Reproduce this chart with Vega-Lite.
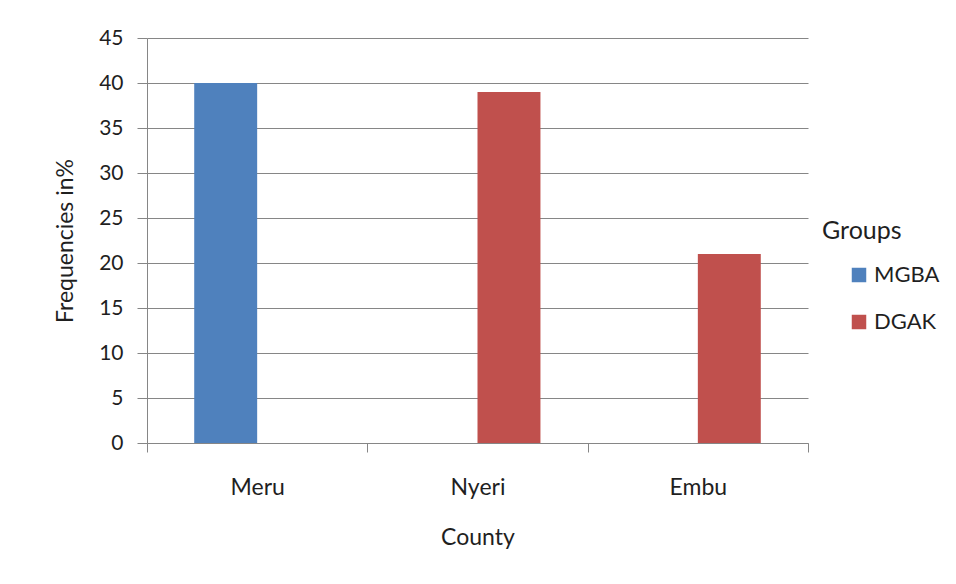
{
  "$schema": "https://vega.github.io/schema/vega-lite/v6.json",
  "width": 661,
  "height": 405,
  "autosize": {"type": "none"},
  "padding": {"left": 147, "top": 38, "right": 148, "bottom": 141},
  "background": "white",
  "data": {
    "values": [
      {"County": "Meru", "Group": "MGBA", "Frequency": 40},
      {"County": "Meru", "Group": "DGAK", "Frequency": 0},
      {"County": "Nyeri", "Group": "MGBA", "Frequency": 0},
      {"County": "Nyeri", "Group": "DGAK", "Frequency": 39},
      {"County": "Embu", "Group": "MGBA", "Frequency": 0},
      {"County": "Embu", "Group": "DGAK", "Frequency": 21}
    ]
  },
  "mark": {"type": "bar"},
  "encoding": {
    "x": {
      "field": "County",
      "type": "nominal",
      "sort": ["Meru", "Nyeri", "Embu"],
      "scale": {"paddingInner": 0, "paddingOuter": 0},
      "axis": {
        "title": "County",
        "labelAngle": 0,
        "labelFontSize": 23,
        "tickBand": "extent",
        "ticks": true,
        "tickSize": 9,
        "labelPadding": 24,
        "titlePadding": 27,
        "grid": false
      }
    },
    "xOffset": {
      "field": "Group",
      "type": "nominal",
      "sort": ["MGBA", "DGAK"],
      "scale": {"paddingInner": 0, "paddingOuter": 0.75}
    },
    "y": {
      "field": "Frequency",
      "type": "quantitative",
      "scale": {"domain": [0, 45], "nice": false},
      "axis": {
        "title": "Frequencies in%",
        "values": [0, 5, 10, 15, 20, 25, 30, 35, 40, 45],
        "tickSize": 10,
        "labelPadding": 14,
        "titlePadding": 21,
        "grid": true
      }
    },
    "color": {
      "field": "Group",
      "type": "nominal",
      "sort": ["MGBA", "DGAK"],
      "scale": {"domain": ["MGBA", "DGAK"], "range": ["#4F81BD", "#C0504D"]},
      "legend": {
        "title": "Groups",
        "orient": "none",
        "legendX": 675,
        "legendY": 181,
        "symbolType": "square",
        "symbolSize": 210,
        "symbolOffset": 26,
        "rowPadding": 25,
        "titlePadding": 20
      }
    }
  },
  "config": {
    "font": "Lato",
    "view": {"stroke": null},
    "axis": {
      "domainColor": "#868686",
      "tickColor": "#868686",
      "gridColor": "#868686",
      "domainWidth": 1,
      "gridWidth": 1,
      "labelFont": "Lato",
      "labelFontSize": 21,
      "labelColor": "#1f1f1f",
      "titleFont": "Lato",
      "titleFontSize": 23,
      "titleFontWeight": "normal",
      "titleColor": "#1f1f1f"
    },
    "legend": {
      "labelFont": "Lato",
      "labelFontSize": 22,
      "labelColor": "#1f1f1f",
      "titleFont": "Lato",
      "titleFontSize": 25,
      "titleFontWeight": "normal",
      "titleColor": "#1f1f1f"
    }
  }
}
